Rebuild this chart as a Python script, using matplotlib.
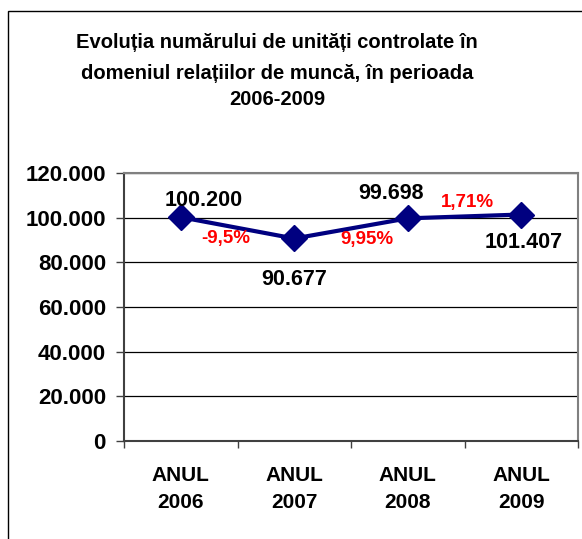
import matplotlib
matplotlib.use("Agg")
import matplotlib.pyplot as plt
from matplotlib.patches import Rectangle
from matplotlib.ticker import FuncFormatter, FixedLocator

plt.rcParams['font.family'] = ['Liberation Sans', 'DejaVu Sans']
plt.rcParams['font.weight'] = 'bold'

title_lines = ["Evoluția numărului de unități controlate în",
               "domeniul relațiilor de muncă, în perioada",
               "2006-2009"]
categories = ["ANUL\n2006", "ANUL\n2007", "ANUL\n2008", "ANUL\n2009"]
values = [100200, 90677, 99698, 101407]
value_labels = ["100.200", "90.677", "99.698", "101.407"]
pct_labels = ["-9,5%", "9,95%", "1,71%"]
yticks = [0, 20000, 40000, 60000, 80000, 100000, 120000]

W, H = 582, 539
fig = plt.figure(figsize=(W / 100, H / 100), dpi=100)
fig.patch.set_facecolor('white')

# outer border
fig.add_artist(Rectangle((8 / W, -0.05), 1.2, 1 - 11 / H + 0.05, transform=fig.transFigure,
                         fill=False, edgecolor='black', lw=1.0))

ax = fig.add_axes([124 / W, (H - 441) / H, (578 - 124) / W, (441 - 173) / H])
x = list(range(len(values)))
ax.plot(x, values, color='#000080', lw=3, marker='D', ms=13.5, zorder=5, clip_on=False)

ax.set_xlim(-0.5, 3.5)
ax.set_ylim(0, 120000)
ax.yaxis.set_major_locator(FixedLocator(yticks))
ax.yaxis.set_major_formatter(FuncFormatter(lambda v, p: f"{int(v):,}".replace(",", ".")))
ax.set_xticks(x)
ax.set_xticklabels(categories, fontsize=15, fontweight='bold', linespacing=1.55)
ax.set_xticks([-0.5, 0.5, 1.5, 2.5, 3.5], minor=True)
ax.tick_params(axis='x', which='major', length=0, pad=18)
ax.tick_params(axis='x', which='minor', length=5, width=1, color='#404040', direction='out')
ax.tick_params(axis='y', length=6, width=1, color='#404040', labelsize=16, pad=7)
for lbl in ax.get_yticklabels():
    lbl.set_fontweight('bold')

ax.grid(axis='y', color='black', lw=0.9)
ax.set_axisbelow(True)
for s in ['top', 'right']:
    ax.spines[s].set_color('#808080')
    ax.spines[s].set_linewidth(1.5)
for s in ['left', 'bottom']:
    ax.spines[s].set_color('#404040')
    ax.spines[s].set_linewidth(1.5)

# value labels
offsets = [(23, 17), (0, -41), (-17, 25), (2, -28)]
for xi, v, lab, off in zip(x, values, value_labels, offsets):
    ax.annotate(lab, (xi, v), xytext=off, textcoords='offset pixels',
                ha='center', va='center', fontsize=15.5, fontweight='bold', color='black',
                zorder=6)

# percentage labels at segment midpoints
poffs = [(-12, -11), (16, -11), (3, 14)]
for i, (lab, off) in enumerate(zip(pct_labels, poffs)):
    mx = (x[i] + x[i + 1]) / 2
    my = (values[i] + values[i + 1]) / 2
    ax.annotate(lab, (mx, my), xytext=off, textcoords='offset pixels',
                ha='center', va='center', fontsize=13.5, fontweight='bold', color='#ff0000',
                zorder=6)

# title
baselines = [48, 79, 105]
for line, b in zip(title_lines, baselines):
    fig.text(277 / W, 1 - b / H, line, ha='center', va='baseline', fontsize=14.5,
             fontweight='bold', color='black')

fig.savefig("out.png", dpi=100, facecolor='white')
